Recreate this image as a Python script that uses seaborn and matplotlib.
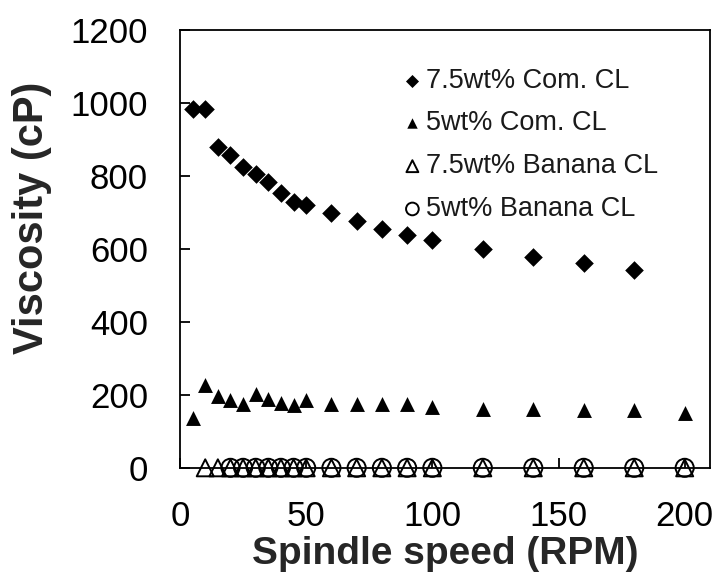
import matplotlib
matplotlib.use('Agg')
import matplotlib.pyplot as plt
import pandas as pd
import seaborn as sns

# Spindle speed (RPM) for each series
speed_com75 = [5, 10, 15, 20, 25, 30, 35, 40, 45, 50, 60, 70, 80, 90, 100, 120, 140, 160, 180]
speed_com5 = [5, 10, 15, 20, 25, 30, 35, 40, 45, 50, 60, 70, 80, 90, 100, 120, 140, 160, 180, 200]
speed_ban75 = [10, 15, 20, 25, 30, 35, 40, 45, 50, 60, 70, 80, 90, 100, 120, 140, 160, 180, 200]
speed_ban5 = [20, 25, 30, 35, 40, 45, 50, 60, 70, 80, 90, 100, 120, 140, 160, 180, 200]

# Viscosity (cP)
visc_com75 = [985, 983, 880, 859, 825, 807, 783, 755, 729, 721, 698, 677, 656, 638, 625, 599, 579, 561, 544]
visc_com5 = [138, 227, 199, 186, 175, 203, 190, 179, 172, 188, 177, 175, 175, 175, 167, 163, 161, 158, 158, 151]
visc_ban75 = [1, 1, 1, 1, 1, 1, 1, 1, 1, 1, 1, 1, 1, 1, 1, 1, 1, 1, 1]
visc_ban5 = [1, 1, 1, 1, 1, 1, 1, 1, 1, 1, 1, 1, 1, 1, 1, 1, 1]

labels = ['7.5wt% Com. CL', '5wt% Com. CL', '7.5wt% Banana CL', '5wt% Banana CL']

sns.set_style('white')
plt.rcParams['font.family'] = ['Liberation Sans', 'DejaVu Sans']

fig = plt.figure(figsize=(7.2, 5.78), dpi=100)
ax = fig.add_axes([0.25, 0.19, 0.736, 0.758])

df1 = pd.DataFrame({'speed': speed_com75, 'visc': visc_com75})
df2 = pd.DataFrame({'speed': speed_com5, 'visc': visc_com5})
df3 = pd.DataFrame({'speed': speed_ban75, 'visc': visc_ban75})
df4 = pd.DataFrame({'speed': speed_ban5, 'visc': visc_ban5})

sns.scatterplot(data=df1, x='speed', y='visc', marker='D', s=90, color='black',
                linewidth=0, label=labels[0], ax=ax, zorder=3, clip_on=False)
sns.scatterplot(data=df2, x='speed', y='visc', marker='^', s=115, color='black',
                linewidth=0, label=labels[1], ax=ax, zorder=3, clip_on=False)
sns.scatterplot(data=df3, x='speed', y='visc', marker='^', s=150, facecolors='none',
                edgecolors='black', linewidth=1.4, label=labels[2], ax=ax, zorder=3,
                clip_on=False)
sns.scatterplot(data=df4, x='speed', y='visc', marker='o', s=170, facecolors='none',
                edgecolors='black', linewidth=1.4, label=labels[3], ax=ax, zorder=3,
                clip_on=False)

ax.set_xlim(0, 210)
ax.set_ylim(0, 1200)
ax.set_xticks([0, 50, 100, 150, 200])
ax.set_yticks([0, 200, 400, 600, 800, 1000, 1200])
ax.tick_params(axis='both', direction='in', length=7, width=1.3, labelsize=25,
               colors='black', pad=23, bottom=True, left=True)
for sp in ax.spines.values():
    sp.set_visible(True)
    sp.set_color('black')
    sp.set_linewidth(1.3)

ax.set_xlabel('Spindle speed (RPM)', fontsize=28, fontweight='bold', labelpad=2)
ax.set_ylabel('Viscosity (cP)', fontsize=30, fontweight='bold')
ax.yaxis.set_label_coords(-0.242, 0.571)

leg = ax.legend(loc='upper left', bbox_to_anchor=(0.39, 0.945), frameon=False,
                fontsize=19.5, markerscale=0.7, handletextpad=0.05, labelspacing=0.62,
                borderpad=0, handlelength=0.9)
for t in leg.get_texts():
    t.set_color('#1a1a1a')

fig.savefig('out.png', dpi=100)
